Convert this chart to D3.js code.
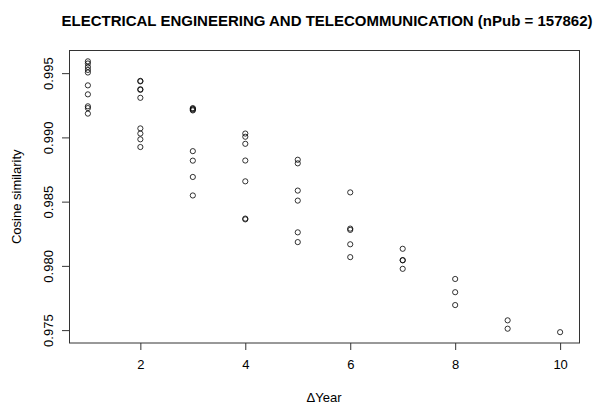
<!DOCTYPE html>
<html>
<head>
<meta charset="utf-8">
<script src="https://cdn.jsdelivr.net/npm/d3@7"></script>
<style>
  html, body { margin: 0; padding: 0; background: #fff; }
  svg { display: block; }
  text { font-family: "Liberation Sans", Arial, sans-serif; fill: #000; }
</style>
</head>
<body>
<svg id="chart" width="598" height="409"></svg>
<script>
// Cosine similarity between yearly publication profiles, by year gap
const deltaYears = [1, 2, 3, 4, 5, 6, 7, 8, 9, 10];
const similarity = [
  [0.99592, 0.99575, 0.99548, 0.99525, 0.99505, 0.99405, 0.99335, 0.99242, 0.99228, 0.99185],
  [0.99440, 0.99436, 0.99375, 0.99370, 0.99308, 0.99070, 0.99030, 0.98985, 0.98925],
  [0.99228, 0.99222, 0.99216, 0.99210, 0.98893, 0.98819, 0.98692, 0.98548],
  [0.99030, 0.99005, 0.98950, 0.98820, 0.98658, 0.98368, 0.98362],
  [0.98826, 0.98798, 0.98586, 0.98508, 0.98261, 0.98185],
  [0.98572, 0.98290, 0.98280, 0.98168, 0.98068],
  [0.98133, 0.98045, 0.98043, 0.97977],
  [0.97898, 0.97795, 0.97695],
  [0.97576, 0.97511],
  [0.97484]
];
const xTicks = [2, 4, 6, 8, 10];
const yTicks = [0.975, 0.980, 0.985, 0.990, 0.995];
const titleText = "ELECTRICAL ENGINEERING AND TELECOMMUNICATION (nPub = 157862)";

const points = [];
deltaYears.forEach((dy, i) => similarity[i].forEach(v => points.push({ dy, v })));

const box = { left: 69, right: 579, top: 50.5, bottom: 343 };

// pad each data range by 4% on both sides
function padded(ext) {
  const d = (ext[1] - ext[0]) * 0.04;
  return [ext[0] - d, ext[1] + d];
}

const x = d3.scaleLinear()
  .domain(padded(d3.extent(points, p => p.dy)))
  .range([box.left, box.right]);
const y = d3.scaleLinear()
  .domain(padded(d3.extent(points, p => p.v)))
  .range([box.bottom, box.top]);

const svg = d3.select("#chart");

// x axis
const xAxis = svg.append("g")
  .attr("transform", `translate(0,${box.bottom})`)
  .call(d3.axisBottom(x).tickValues(xTicks).tickFormat(d3.format("d")).tickSize(7).tickPadding(10));
xAxis.select(".domain").remove();
xAxis.selectAll("line").attr("stroke", "#333");
xAxis.selectAll("text").attr("font-size", 13).attr("font-family", "Liberation Sans, Arial, sans-serif").attr("fill", "#000");

// y axis, labels parallel to the axis
const yAxis = svg.append("g")
  .attr("transform", `translate(${box.left},0)`)
  .call(d3.axisLeft(y).tickValues(yTicks).tickFormat(d3.format(".3f")).tickSize(7));
yAxis.select(".domain").remove();
yAxis.selectAll("line").attr("stroke", "#333");
yAxis.selectAll("text")
  .attr("font-size", 13)
  .attr("font-family", "Liberation Sans, Arial, sans-serif")
  .attr("fill", "#000")
  .attr("x", null).attr("dy", null)
  .attr("text-anchor", "middle")
  .attr("transform", "translate(-16,0) rotate(-90)");

// plot frame
svg.append("rect")
  .attr("x", box.left + 0.5).attr("y", box.top)
  .attr("width", box.right - box.left).attr("height", box.bottom - box.top)
  .attr("fill", "none").attr("stroke", "#333").attr("stroke-width", 1);

// open circle markers
svg.append("g").selectAll("circle")
  .data(points)
  .join("circle")
  .attr("cx", p => x(p.dy))
  .attr("cy", p => y(p.v))
  .attr("r", 2.6)
  .attr("fill", "none")
  .attr("stroke", "#000")
  .attr("stroke-width", 0.8);

// titles
svg.append("text")
  .attr("x", 327).attr("y", 26)
  .attr("text-anchor", "middle")
  .attr("font-size", 15).attr("font-weight", "bold")
  .text(titleText);

svg.append("text")
  .attr("x", (box.left + box.right) / 2).attr("y", 402)
  .attr("text-anchor", "middle")
  .attr("font-size", 13)
  .text("ΔYear");

svg.append("text")
  .attr("transform", `translate(21,${(box.top + box.bottom) / 2}) rotate(-90)`)
  .attr("text-anchor", "middle")
  .attr("font-size", 13)
  .text("Cosine similarity");
</script>
</body>
</html>
